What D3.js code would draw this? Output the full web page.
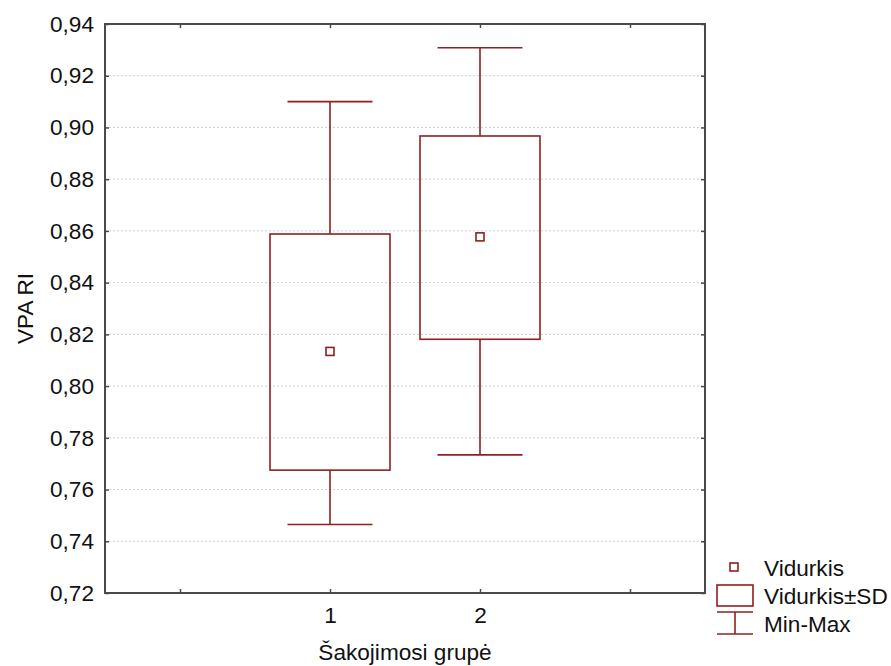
<!DOCTYPE html>
<html lang="lt">
<head>
<meta charset="UTF-8">
<title>VPA RI pagal šakojimosi grupę</title>
<script src="https://d3js.org/d3.v7.min.js"></script>
<style>
    body { margin: 0; background: #fff; }
    text { font-family: Arial, "Liberation Sans", sans-serif; fill: #111; }
</style>
</head>
<body>
<script>
    // duomenys
    const groups = ["1", "2"];
    const groupPos = [1, 2];
    const means = [0.8134, 0.8577];
    const sdLow = [0.7675, 0.8181];
    const sdHigh = [0.8588, 0.8967];
    const mins = [0.7465, 0.7734];
    const maxs = [0.9100, 0.9308];
    const yTicks = [0.72, 0.74, 0.76, 0.78, 0.80, 0.82, 0.84, 0.86, 0.88, 0.90, 0.92, 0.94];
    const xTicks = [0, 1, 2, 3];
    const legendLabels = ["Vidurkis", "Vidurkis±SD", "Min-Max"];

    const width = 891, height = 666;
    const margin = { top: 24, right: 186, bottom: 73, left: 105 };
    const color = "#8e2020";
    const axisColor = "#4a4a4a";
    const fontSize = "22.6px";

    const svg = d3.select("body").append("svg")
        .attr("width", width)
        .attr("height", height);

    const x = d3.scaleLinear()
        .domain([-0.5, 3.5])
        .range([margin.left, width - margin.right]);

    const y = d3.scaleLinear()
        .domain([0.72, 0.94])
        .range([height - margin.bottom, margin.top]);

    const fmt = d => d3.format(".2f")(d).replace(".", ",");

    // tinklelis
    svg.append("g")
        .selectAll("line")
        .data(yTicks.slice(1, -1))
        .enter()
        .append("line")
        .attr("x1", x.range()[0])
        .attr("x2", x.range()[1])
        .attr("y1", d => y(d))
        .attr("y2", d => y(d))
        .attr("stroke", "#cfcfcf")
        .attr("stroke-dasharray", "2,2");

    // ašys (žymės į vidų)
    svg.append("g")
        .attr("transform", `translate(${margin.left},0)`)
        .call(d3.axisLeft(y).tickValues(yTicks).tickFormat(fmt).tickSizeInner(-4).tickSizeOuter(0).tickPadding(11))
        .call(g => g.select(".domain").remove())
        .call(g => g.selectAll("line").attr("stroke", axisColor).attr("stroke-width", 1.5))
        .call(g => g.selectAll("text").style("font-size", fontSize).attr("fill", "#111"));

    svg.append("g")
        .attr("transform", `translate(${width - margin.right},0)`)
        .call(d3.axisRight(y).tickValues(yTicks).tickFormat("").tickSizeInner(-4).tickSizeOuter(0))
        .call(g => g.select(".domain").remove())
        .call(g => g.selectAll("line").attr("stroke", axisColor).attr("stroke-width", 1.5));

    svg.append("g")
        .attr("transform", `translate(0,${height - margin.bottom})`)
        .call(d3.axisBottom(x).tickValues(xTicks).tickFormat(d => groups[groupPos.indexOf(d)] || "").tickSizeInner(-4).tickSizeOuter(0).tickPadding(14))
        .call(g => g.select(".domain").remove())
        .call(g => g.selectAll("line").attr("stroke", axisColor).attr("stroke-width", 1.5))
        .call(g => g.selectAll("text").style("font-size", fontSize).attr("fill", "#111"));

    svg.append("g")
        .attr("transform", `translate(0,${margin.top})`)
        .call(d3.axisTop(x).tickValues(xTicks).tickFormat("").tickSizeInner(-4).tickSizeOuter(0))
        .call(g => g.select(".domain").remove())
        .call(g => g.selectAll("line").attr("stroke", axisColor).attr("stroke-width", 1.5));

    // rėmas
    svg.append("rect")
        .attr("x", x.range()[0])
        .attr("y", y.range()[1])
        .attr("width", x.range()[1] - x.range()[0])
        .attr("height", y.range()[0] - y.range()[1])
        .attr("fill", "none")
        .attr("stroke", axisColor)
        .attr("stroke-width", 2);

    // dėžutės
    const boxW = 120, capW = 85;
    const data = groups.map((g, i) => ({
        pos: groupPos[i], mean: means[i], lo: sdLow[i], hi: sdHigh[i], min: mins[i], max: maxs[i]
    }));

    const box = svg.append("g").selectAll("g")
        .data(data)
        .enter()
        .append("g")
        .attr("stroke", color)
        .attr("stroke-width", 1.6)
        .attr("fill", "none");

    box.append("line")
        .attr("x1", d => x(d.pos)).attr("x2", d => x(d.pos))
        .attr("y1", d => y(d.max)).attr("y2", d => y(d.hi));
    box.append("line")
        .attr("x1", d => x(d.pos)).attr("x2", d => x(d.pos))
        .attr("y1", d => y(d.lo)).attr("y2", d => y(d.min));
    box.append("line")
        .attr("x1", d => x(d.pos) - capW / 2).attr("x2", d => x(d.pos) + capW / 2)
        .attr("y1", d => y(d.max)).attr("y2", d => y(d.max));
    box.append("line")
        .attr("x1", d => x(d.pos) - capW / 2).attr("x2", d => x(d.pos) + capW / 2)
        .attr("y1", d => y(d.min)).attr("y2", d => y(d.min));
    box.append("rect")
        .attr("x", d => x(d.pos) - boxW / 2)
        .attr("width", boxW)
        .attr("y", d => y(d.hi))
        .attr("height", d => y(d.lo) - y(d.hi));
    box.append("rect")
        .attr("x", d => x(d.pos) - 4)
        .attr("y", d => y(d.mean) - 4)
        .attr("width", 8)
        .attr("height", 8);

    // legenda
    const lg = svg.append("g").attr("stroke", color).attr("stroke-width", 1.6).attr("fill", "none");
    lg.append("rect").attr("x", 730).attr("y", 563).attr("width", 8).attr("height", 8);
    lg.append("rect").attr("x", 717).attr("y", 585).attr("width", 36).attr("height", 21);
    lg.append("line").attr("x1", 717).attr("x2", 753).attr("y1", 612).attr("y2", 612);
    lg.append("line").attr("x1", 735).attr("x2", 735).attr("y1", 612).attr("y2", 634);
    lg.append("line").attr("x1", 717).attr("x2", 753).attr("y1", 634).attr("y2", 634);

    svg.append("g").selectAll("text")
        .data(legendLabels)
        .enter()
        .append("text")
        .attr("x", 764)
        .attr("y", (d, i) => 576 + i * 28)
        .style("font-size", fontSize)
        .text(d => d);

    // ašių pavadinimai
    svg.append("text")
        .attr("x", (x.range()[0] + x.range()[1]) / 2)
        .attr("y", 660)
        .attr("text-anchor", "middle")
        .style("font-size", fontSize)
        .text("Šakojimosi grupė");

    svg.append("text")
        .attr("transform", `translate(33,${(y.range()[0] + y.range()[1]) / 2}) rotate(-90)`)
        .attr("text-anchor", "middle")
        .style("font-size", fontSize)
        .text("VPA RI");
</script>
</body>
</html>
